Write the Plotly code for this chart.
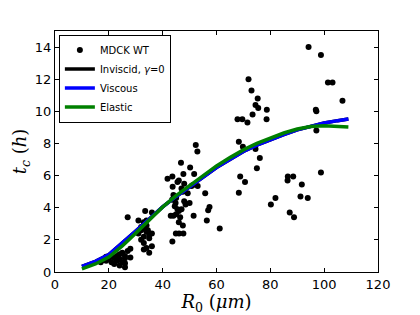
import plotly.graph_objects as go

# Scatter data: MDCK WT
wt_x = [17, 18, 19, 20, 21, 22, 22, 23, 23, 24, 24, 25, 25, 26, 26, 26, 27, 28, 28, 21, 19, 27, 24, 26,
        31, 32, 32, 33, 33, 33, 34, 34, 34, 35, 35, 33.5, 36, 34.5, 36, 33, 34, 35, 31, 32, 36, 33,
        41.8, 43.6, 43.7, 44, 45, 45.5, 46, 46.8, 47.7, 47, 47.5, 48, 48, 49.3, 50.2, 50.7, 51.1, 51.7,
        52.3, 52.9, 53, 43.5, 44.5, 45, 46, 46.5, 44, 47, 48.5, 50, 51.5, 44.9, 46.1, 47.7, 43.6, 46,
        47.5, 45.5, 44.8, 43,
        55.8, 57.4, 56.9, 56.4, 61.2,
        71.9, 73, 75.3, 74.5, 75.5, 73.4, 78.7, 67.8, 69.6, 71.5, 78.6, 68.3, 69.8, 74.5, 76.1, 75,
        68.8, 70.6, 68.3,
        94.2, 98.8, 101.4, 103.1, 106.8, 96.9, 97.1, 97.1, 98.8, 86.5, 88.5, 86.4, 91.7, 91.2, 93.9,
        81.9, 80.2, 87.2, 88.8]
wt_y = [0.6, 0.75, 0.7, 0.85, 0.6, 0.9, 0.5, 1.0, 0.7, 0.4, 0.8, 1.2, 0.6, 1.0, 0.55, 0.85, 1.3, 1.45, 0.9, 0.95, 0.95, 3.4, 1.1, 0.3,
        2.4, 2.8, 2.0, 3.1, 2.2, 1.8, 2.5, 3.2, 2.9, 2.3, 2.1, 3.8, 3.7, 2.6, 1.6, 1.4, 1.5, 1.2, 3.2, 2.6, 2.4, 2.7,
        5.8, 5.95, 5.3, 4.8, 4.6, 5.6, 5.7, 6.8, 6.1, 5.2, 5.0, 5.5, 4.4, 4.9, 6.5, 5.35, 5.4, 6.1,
        7.9, 7.5, 5.35, 4.5, 4.1, 3.6, 3.8, 3.4, 3.5, 3.9, 4.2, 4.3, 3.5, 2.4, 2.4, 2.4, 1.9, 3.1,
        2.9, 3.9, 4.3, 3.5,
        4.9, 4.05, 3.85, 3.2, 2.7,
        12.0, 11.3, 10.8, 10.4, 10.2, 9.8, 10.1, 9.5, 9.5, 9.3, 9.5, 8.1, 7.8, 7.65, 7.1, 6.45,
        5.95, 5.6, 4.94,
        14.0, 13.5, 11.8, 11.8, 10.66, 10.1, 10.0, 8.8, 6.2, 5.95, 5.95, 5.7, 5.45, 4.7, 4.6,
        4.6, 4.2, 3.7, 3.4]

# Model curves
model_x = [10, 15, 20, 25, 30, 35, 40, 45, 50, 55, 60, 65, 70, 75, 80, 85, 90, 95, 100, 105, 109]
inviscid_y = [0.35, 0.66, 1.08, 1.78, 2.55, 3.3, 4.05, 4.7, 5.3, 5.9, 6.5, 7.0, 7.5, 7.9, 8.25, 8.55, 8.85, 9.08, 9.27, 9.42, 9.52]
viscous_y = [0.35, 0.66, 1.08, 1.78, 2.55, 3.3, 4.05, 4.7, 5.3, 5.9, 6.5, 7.0, 7.5, 7.9, 8.25, 8.55, 8.85, 9.08, 9.27, 9.42, 9.52]
elastic_y = [0.2, 0.5, 0.93, 1.62, 2.42, 3.22, 4.05, 4.75, 5.38, 6.0, 6.6, 7.12, 7.6, 8.0, 8.35, 8.65, 8.9, 9.05, 9.1, 9.08, 9.03]

fig = go.Figure()
fig.add_trace(go.Scatter(x=wt_x, y=wt_y, mode="markers", name="MDCK WT",
                         marker=dict(color="black", size=6)))
fig.add_trace(go.Scatter(x=model_x, y=inviscid_y, mode="lines", name="Inviscid, <i>γ</i>=0",
                         line=dict(color="black", width=3.5)))
fig.add_trace(go.Scatter(x=model_x, y=viscous_y, mode="lines", name="Viscous",
                         line=dict(color="blue", width=3.5)))
fig.add_trace(go.Scatter(x=model_x, y=elastic_y, mode="lines", name="Elastic",
                         line=dict(color="green", width=3.5)))

axis_common = dict(showline=True, linecolor="black", linewidth=1, mirror="allticks",
                   ticks="inside", ticklen=4, tickcolor="black", showgrid=False, zeroline=False,
                   automargin=False,
                   tickfont=dict(family="DejaVu Sans", size=13, color="black"))

fig.update_layout(
    width=412, height=307,
    margin=dict(l=47, r=42, t=23, b=43),
    paper_bgcolor="white", plot_bgcolor="white",
    showlegend=True,
    legend=dict(x=0.012, y=0.985, xanchor="left", yanchor="top",
                bordercolor="black", borderwidth=1, bgcolor="white",
                font=dict(family="DejaVu Sans", size=10, color="black"),
                itemwidth=30, tracegroupgap=0),
    xaxis=dict(range=[0, 120], tickvals=[0, 20, 40, 60, 80, 100, 120],
               title=dict(text="<i>R</i><sub>0</sub> (<i>μm</i>)", standoff=2,
                          font=dict(family="DejaVu Serif", size=18, color="black")),
               **axis_common),
    yaxis=dict(range=[0, 15], tickvals=[0, 2, 4, 6, 8, 10, 12, 14],
               title=dict(text="<i>t</i><sub><i>c</i></sub> (<i>h</i>)", standoff=3,
                          font=dict(family="DejaVu Serif", size=18, color="black")),
               **axis_common),
)

fig.write_html("out.html")
